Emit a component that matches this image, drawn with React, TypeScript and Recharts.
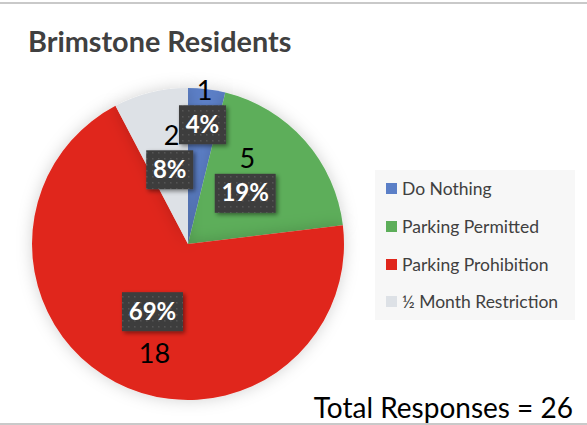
import React from 'react';
import { PieChart, Pie, Cell, Legend } from 'recharts';

const categories = ['Do Nothing', 'Parking Permitted', 'Parking Prohibition', '½ Month Restriction'];
const responses = [1, 5, 18, 2];
const colors = ['#5B7FC7', '#5DAE5A', '#E0261B', '#DDE1E6'];
const total = 26;

const data = categories.map((name, i) => ({ name, value: responses[i] }));

const FONT = 'Lato, "Open Sans", sans-serif';
const RADIAN = Math.PI / 180;

const renderLabel = (props: any) => {
  const { cx, cy, midAngle, outerRadius, percent, value } = props;
  // small slices get pushed out a bit, like the original
  const r = outerRadius * (percent < 0.05 ? 0.77 : 0.49);
  const x = cx + r * Math.cos(-midAngle * RADIAN);
  const y = cy + r * Math.sin(-midAngle * RADIAN);
  const pct = `${Math.round(percent * 100)}%`;
  const w = pct.length > 2 ? 61 : 47;
  const h = 39;
  const below = y > cy;
  return (
    <g>
      <rect x={x - w / 2} y={y - h / 2} width={w} height={h} fill="url(#dots)" filter="url(#boxShadow)" />
      <text x={x} y={y + 8} textAnchor="middle" fill="#fff" fontFamily={FONT} fontWeight={700} fontSize={24}>
        {pct}
      </text>
      <text x={x + 2} y={below ? y + 51 : y - 25} textAnchor="middle" fill="#000" fontFamily={FONT} fontSize={27}>
        {value}
      </text>
    </g>
  );
};

const renderLegend = () => (
  <div style={{ background: '#f7f7f7', width: 200, height: 150, padding: '0 0 0 11px', boxSizing: 'border-box', fontFamily: FONT }}>
    {categories.map((c, i) => (
      <div key={c} style={{ display: 'flex', alignItems: 'center', height: 37.7, fontSize: 17.5, color: '#404040', whiteSpace: 'nowrap' }}>
        <span style={{ width: 11, height: 11, background: colors[i], marginRight: 5, display: 'inline-block', flex: 'none' }} />
        {c}
      </div>
    ))}
  </div>
);

export default function App() {
  return (
    <div style={{ position: 'absolute', left: 0, top: 0, width: 587, height: 425, background: '#fff', overflow: 'hidden' }}>
      <svg width={0} height={0} style={{ position: 'absolute' }}>
        <defs>
          <pattern id="dots" width={6} height={6} patternUnits="userSpaceOnUse">
            <rect width={6} height={6} fill="#3e3e3e" />
            <rect x={2} y={2} width={1.5} height={1.5} fill="#555" />
          </pattern>
          <filter id="boxShadow" x="-20%" y="-20%" width="150%" height="150%">
            <feDropShadow dx={2} dy={2} stdDeviation={2} floodColor="#000" floodOpacity={0.45} />
          </filter>
          <filter id="pieGlow" x="-20%" y="-20%" width="140%" height="140%">
            <feDropShadow dx={0} dy={0} stdDeviation={8} floodColor="#000" floodOpacity={0.18} />
          </filter>
        </defs>
      </svg>
      <div style={{ position: 'absolute', left: 0, top: 2, width: 587, height: 2, background: '#c9c9c9' }} />
      <div style={{ position: 'absolute', left: 0, top: 423, width: 587, height: 2, background: '#c9c9c9' }} />
      <div style={{ position: 'absolute', left: 28, top: 24, fontFamily: FONT, fontWeight: 700, fontSize: 28.8, color: '#404040', whiteSpace: 'nowrap' }}>
        Brimstone Residents
      </div>
      <PieChart width={587} height={425} margin={{ top: 0, right: 0, bottom: 0, left: 0 }} style={{ position: 'absolute', left: 0, top: 0 }}>
        <Pie
          data={data}
          dataKey="value"
          nameKey="name"
          cx={188}
          cy={244}
          outerRadius={156}
          startAngle={90}
          endAngle={-270}
          stroke="none"
          labelLine={false}
          label={renderLabel}
          isAnimationActive={false}
          style={{ filter: 'url(#pieGlow)' }}
        >
          {data.map((d, i) => (
            <Cell key={d.name} fill={colors[i]} />
          ))}
        </Pie>
        <Legend
          layout="vertical"
          content={renderLegend}
          wrapperStyle={{ position: 'absolute', left: 375, top: 170, width: 200, height: 150 }}
        />
      </PieChart>
      <div style={{ position: 'absolute', right: 14, top: 390, fontFamily: FONT, fontSize: 28, color: '#000', whiteSpace: 'nowrap' }}>
        Total Responses = {total}
      </div>
    </div>
  );
}
